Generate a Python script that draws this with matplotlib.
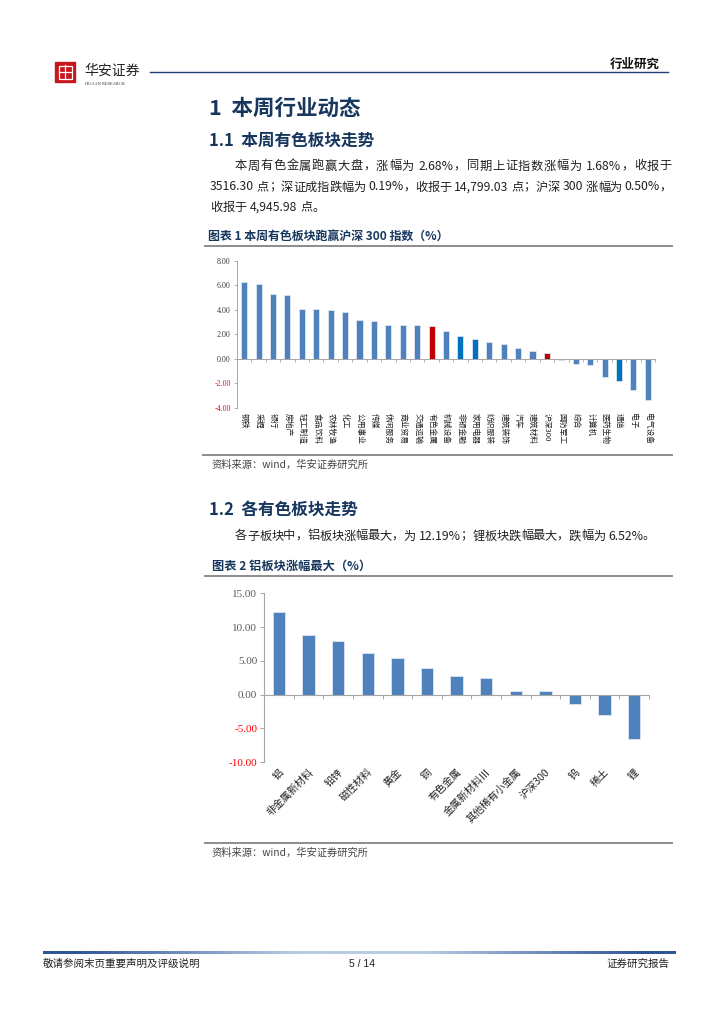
import re
import numpy as np
import matplotlib.pyplot as plt
from matplotlib.patches import Rectangle
from matplotlib.colors import LinearSegmentedColormap

plt.rcParams['font.family'] = ['Noto Sans CJK SC', 'DejaVu Sans']

# chart 1: industries vs CSI 300 (%)
ind_names = ["钢铁", "采掘", "银行", "房地产", "轻工制造", "食品饮料", "农林牧渔", "化工",
             "公用事业", "传媒", "休闲服务", "商业贸易", "交通运输", "有色金属", "机械设备",
             "非银金融", "家用电器", "纺织服装", "建筑装饰", "汽车", "建筑材料", "沪深300",
             "国防军工", "综合", "计算机", "医药生物", "通信", "电子", "电气设备"]
ind_values = [6.26, 6.09, 5.25, 5.19, 4.10, 4.07, 3.99, 3.80, 3.14, 3.06, 2.79, 2.76, 2.73,
              2.68, 2.30, 1.84, 1.59, 1.40, 1.18, 0.90, 0.66, 0.50, -0.11, -0.38, -0.49,
              -1.48, -1.81, -2.55, -3.37]
ind_red = ["有色金属", "沪深300"]
ind_dark = ["非银金融", "家用电器", "通信"]
y1_ticks = [-4, -2, 0, 2, 4, 6, 8]

# chart 2: non-ferrous sub-sectors (%)
sub_names = ["铝", "非金属新材料", "铅锌", "磁性材料", "黄金", "铜", "有色金属", "金属新材料Ⅲ",
             "其他稀有小金属", "沪深300", "钨", "稀土", "锂"]
sub_values = [12.19, 8.80, 7.87, 6.14, 5.35, 4.00, 2.68, 2.38, 0.59, 0.50, -1.40, -3.00, -6.52]
y2_ticks = [-10, -5, 0, 5, 10, 15]

W, H = 724, 1024
NAVY = "#17375E"
BLUE = "#4F81BD"
BODY = 8.8


def fx(x):
    return x / W


def fy(y):
    return 1 - y / H


def hline(fig, x0, x1, y, color="#8C8C8C", lw=1.4):
    fig.add_artist(plt.Line2D([fx(x0), fx(x1)], [fy(y), fy(y)], color=color, lw=lw))


def body_line(fig, y, text, x0, x1=None):
    # justified line: spread the extra room evenly between glyph groups
    tokens = re.findall(r"[0-9A-Za-z.,%]+|\s|.", text)
    r = fig.canvas.get_renderer()
    arts, widths = [], []
    for tok in tokens:
        t = fig.text(0, fy(y), tok, fontsize=BODY, color="#222222", va="center")
        arts.append(t)
        widths.append(t.get_window_extent(r).width if tok.strip() else BODY * 0.35)
    gap = 0.0
    if x1 is not None and len(tokens) > 1:
        gap = (x1 - x0 - sum(widths)) / (len(tokens) - 1)
    x = x0
    for t, w in zip(arts, widths):
        t.set_x(fx(x))
        x += w + gap


fig = plt.figure(figsize=(W / 100, H / 100), dpi=100)

# header
fig.add_artist(Rectangle((fx(55), fy(82)), fx(20), 20 / H, color="#C8161D"))
fig.add_artist(Rectangle((fx(58.5), fy(78.5)), fx(13), 13 / H, fill=False, ec="white", lw=0.9))
fig.add_artist(plt.Line2D([fx(65), fx(65)], [fy(79), fy(65)], color="white", lw=0.9))
fig.add_artist(plt.Line2D([fx(59), fx(71)], [fy(72), fy(72)], color="white", lw=0.9))
fig.text(fx(84), fy(71), "华安证券", fontsize=10, color="#222222", va="center")
fig.text(fx(85), fy(84), "HUAAN RESEARCH", fontsize=3.2, color="#333333", va="center",
         family="Liberation Serif")
hline(fig, 150, 668, 72, color="#1F3D7A", lw=1.0)
fig.text(fx(660), fy(64), "行业研究", fontsize=9, weight="bold", color="#111111",
         ha="right", va="center")

# section 1
fig.text(fx(209), fy(108), "1  本周行业动态", fontsize=15.5, weight="bold", color=NAVY, va="center")
fig.text(fx(209), fy(141), "1.1  本周有色板块走势", fontsize=12, weight="bold", color=NAVY,
         va="center")
body_line(fig, 166, "本周有色金属跑赢大盘，涨幅为 2.68%，同期上证指数涨幅为 1.68%，收报于", 235, 672)
body_line(fig, 187, "3516.30 点；深证成指跌幅为 0.19%，收报于 14,799.03 点；沪深 300 涨幅为 0.50%，",
          210, 672)
body_line(fig, 207, "收报于 4,945.98 点。", 210)
fig.text(fx(208), fy(236), "图表 1 本周有色板块跑赢沪深 300 指数（%）", fontsize=8.6, weight="bold",
         color=NAVY, va="center")
hline(fig, 205, 672, 246)

# chart 1
ax1 = fig.add_axes([fx(237), fy(408), (655 - 237) / W, (408 - 260.7) / H])
x1 = np.arange(len(ind_names))
colors1 = ["#C00000" if n in ind_red else "#0070C0" if n in ind_dark else BLUE
           for n in ind_names]
ax1.bar(x1, ind_values, width=0.42, color=colors1, edgecolor="#DCE6F2", linewidth=0.6, zorder=2)
ax1.set_xlim(-0.5, len(ind_names) - 0.5)
ax1.set_ylim(y1_ticks[0], y1_ticks[-1])
ax1.set_yticks(y1_ticks)
ax1.set_yticklabels([f"{v:.2f}" for v in y1_ticks], family="Liberation Serif", fontsize=5.8)
for lab, v in zip(ax1.get_yticklabels(), y1_ticks):
    lab.set_color("#FF0000" if v < 0 else "#404040")
ax1.tick_params(axis="y", length=2.5, width=0.6, color="#A6A6A6", pad=2)
ax1.set_xticks(np.arange(len(ind_names) + 1) - 0.5)
ax1.set_xticklabels([])
ax1.tick_params(axis="x", length=2.5, width=0.6, color="#A6A6A6")
ax1.spines["bottom"].set_position(("data", 0))
for s in ["top", "right"]:
    ax1.spines[s].set_visible(False)
for s in ["left", "bottom"]:
    ax1.spines[s].set_color("#A6A6A6")
    ax1.spines[s].set_linewidth(0.7)
for i, name in enumerate(ind_names):
    ax1.text(i, -0.035, name, transform=ax1.get_xaxis_transform(), rotation=270,
             ha="center", va="top", fontsize=5.6, color="#222222")

hline(fig, 203, 672, 455)
fig.text(fx(212), fy(465), "资料来源：wind，华安证券研究所", fontsize=7.4, color="#444444", va="center")

# section 1.2
fig.text(fx(209), fy(510), "1.2  各有色板块走势", fontsize=12, weight="bold", color=NAVY, va="center")
body_line(fig, 536, "各子板块中，铝板块涨幅最大，为 12.19%；锂板块跌幅最大，跌幅为 6.52%。", 235, 655)
fig.text(fx(212), fy(566), "图表 2 铝板块涨幅最大（%）", fontsize=8.8, weight="bold", color=NAVY,
         va="center")
hline(fig, 205, 672, 576)

# chart 2
ax2 = fig.add_axes([fx(264.3), fy(762), (649 - 264.3) / W, (762 - 593.3) / H])
x2 = np.arange(len(sub_names))
ax2.bar(x2, sub_values, width=0.42, color=BLUE, edgecolor="#DCE6F2", linewidth=0.6, zorder=2)
ax2.set_xlim(-0.5, len(sub_names) - 0.5)
ax2.set_ylim(y2_ticks[0], y2_ticks[-1])
ax2.set_yticks(y2_ticks)
ax2.set_yticklabels([f"{v:.2f}" for v in y2_ticks], family="Liberation Serif", fontsize=8)
for lab, v in zip(ax2.get_yticklabels(), y2_ticks):
    lab.set_color("#FF0000" if v < 0 else "#595959")
ax2.tick_params(axis="y", length=3, width=0.7, color="#A6A6A6", pad=2)
ax2.set_xticks(np.arange(len(sub_names) + 1) - 0.5)
ax2.set_xticklabels([])
ax2.tick_params(axis="x", length=3, width=0.7, color="#A6A6A6")
ax2.spines["bottom"].set_position(("data", 0))
for s in ["top", "right"]:
    ax2.spines[s].set_visible(False)
for s in ["left", "bottom"]:
    ax2.spines[s].set_color("#A6A6A6")
    ax2.spines[s].set_linewidth(0.8)
for i, name in enumerate(sub_names):
    ax2.text(i + 0.1, -0.05, name, transform=ax2.get_xaxis_transform(), rotation=45,
             rotation_mode="anchor", ha="right", va="center", fontsize=7.4, color="#222222")

hline(fig, 205, 672, 843)
fig.text(fx(212), fy(853), "资料来源：wind，华安证券研究所", fontsize=7.4, color="#444444", va="center")

# footer
grad = fig.add_axes([fx(43), fy(954), (676 - 43) / W, 3.5 / H])
g = np.abs(np.linspace(-1, 1, 400))
grad.imshow(g[None, :], aspect="auto", cmap=LinearSegmentedColormap.from_list(
    "ft", ["#B8CCE4", "#2F5597"]), vmin=0.2, vmax=0.9)
grad.axis("off")
fig.text(fx(43), fy(964), "敬请参阅末页重要声明及评级说明", fontsize=7.6, color="#222222", va="center")
fig.text(fx(362), fy(964), "5 / 14", fontsize=7.5, color="#222222", va="center", ha="center",
         family="Liberation Sans")
fig.text(fx(669), fy(964), "证券研究报告", fontsize=7.6, color="#222222", va="center", ha="right")

fig.savefig("out.png", dpi=100)
